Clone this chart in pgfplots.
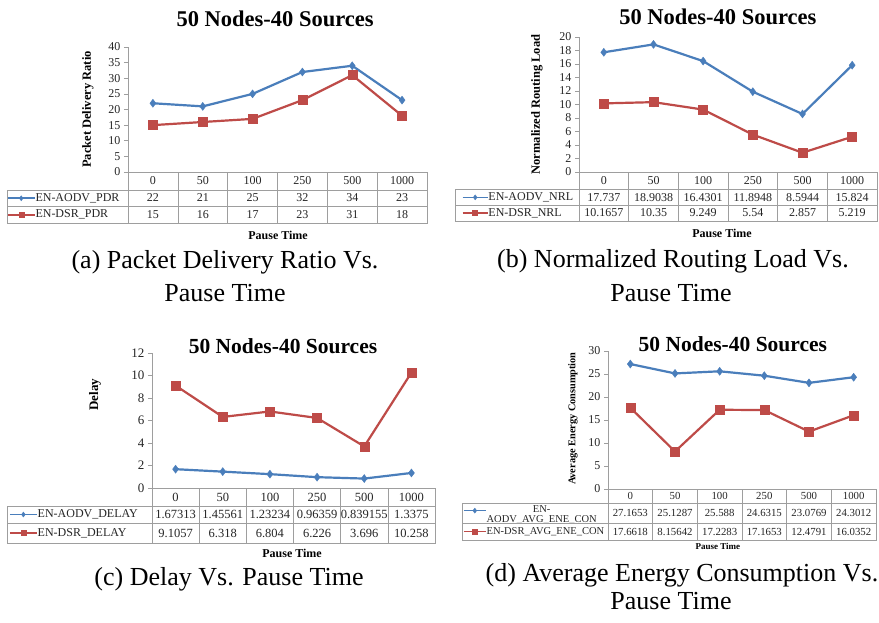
\documentclass[border=0pt]{standalone}
\usepackage{pgfplots}
\pgfplotsset{compat=1.18}
\usepackage{fontspec}
\setmainfont{Liberation Serif}

\definecolor{aodv}{HTML}{4A7EBB}
\definecolor{dsr}{HTML}{BE4B48}
\definecolor{gridc}{gray}{0.62}

\tikzset{
  tab/.style={text=black!85, inner sep=0pt},
  captxt/.style={font=\fontsize{26}{30}\selectfont, inner sep=0pt},
}

\pgfplotsset{
  panel/.style={
    scale only axis, anchor=south west, clip=false,
    xmin=-0.5, xmax=5.5, ymin=0,
    axis lines*=left, xtick=\empty,
    axis line style={draw=gridc, line width=0.6pt},
    tick style={draw=gridc, line width=0.6pt},
    tick align=outside, major tick length=4pt,
    /pgf/number format/assume math mode=true,
    yticklabel style={font=\fontsize{12}{14}\selectfont, text=black!85},
    ylabel style={font=\bfseries\fontsize{12.5}{14}\selectfont, anchor=center, inner sep=0pt},
    xlabel style={font=\bfseries\fontsize{12}{14}\selectfont, anchor=center, inner sep=0pt},
    title style={font=\bfseries\fontsize{22.5}{26}\selectfont, anchor=center, inner sep=0pt},
    legend style={draw=none, fill=none, inner sep=0pt, outer sep=0pt, anchor=west,
      font=\fontsize{12}{14}\selectfont, text=black!85,
      nodes={inner sep=0pt, text height=9pt, text depth=3pt}},
    legend cell align=left,
  },
  legimg/.style={legend image code/.code={%
    \draw[mark repeat=2, mark phase=2, mark size=2.5pt, line width=1.6pt]
      plot coordinates {(0pt,0pt) (#1*0.5pt,0pt) (#1pt,0pt)};}},
  aodv/.style={color=aodv, line width=2.2pt, mark=diamond*, mark size=4pt,
    mark options={solid, line width=0.4pt}},
  dsr/.style={color=dsr, line width=2.2pt, mark=square*, mark size=4.5pt,
    mark options={solid, line width=0.4pt}},
}

% positions are in pixels, measured down from the top edge
% table under an axis: #1 left x, #2 axis x0, #3 axis x1,
% #4 header top, #5 row1 top, #6 row2 top, #7 bottom, #8 font size
\newcommand{\datatable}[8]{%
  \pgfmathsetmacro{\cw}{(#3-#2)/6}
  \draw[gridc, line width=0.6pt] (#2,-#4) rectangle (#3,-#7);
  \draw[gridc, line width=0.6pt] (#1,-#5) rectangle (#3,-#7);
  \draw[gridc, line width=0.6pt] (#1,-#6) -- (#3,-#6);
  \foreach \k in {1,...,5}
    \draw[gridc, line width=0.6pt] ({#2+\k*\cw},-#4) -- ({#2+\k*\cw},-#7);
  \foreach \v [count=\i from 0] in {0,50,100,250,500,1000}
    \node[tab, font=\fontsize{#8}{14}\selectfont] at ({#2+(\i+0.5)*\cw},{-(#4+#5)/2}) {\v};
}
% #1 axis x0, #2 row centre y, #3 font size, #4 values
\newcommand{\tablerow}[4]{%
  \foreach \v [count=\i from 0] in {#4}
    \node[tab, font=\fontsize{#3}{14}\selectfont] at ({#1+(\i+0.5)*\cw},-#2) {\v};
}

\begin{document}
\begin{tikzpicture}[x=1pt, y=1pt]
\useasboundingbox[fill=white] (0,0) rectangle (879,-622);

% ---------- (a) ----------
\begin{axis}[panel, at={(128pt,-172pt)}, width=299pt, height=125pt,
    ymax=40, ytick={0,5,...,40},
    title={50 Nodes-40 Sources}, title style={at={(axis description cs:0.492,1.176)}},
    ylabel={Packet Delivery Ratio}, ylabel style={at={(axis description cs:-0.134,0.5)}},
    xlabel={Pause Time}, xlabel style={at={(axis description cs:0.502,-0.504)}},
    legend style={at={(axis description cs:-0.405,-0.276)}, row sep=4.5pt},
    legimg=27]
\addplot[aodv] coordinates {(0,22) (1,21) (2,25) (3,32) (4,34) (5,23)};
\addlegendentry{EN-AODV\_PDR}
\addplot[dsr] coordinates {(0,15) (1,16) (2,17) (3,23) (4,31) (5,18)};
\addlegendentry{EN-DSR\_PDR}
\end{axis}
\datatable{7}{128}{427}{172}{190}{206}{223}{12}
\tablerow{128}{198}{12}{22,21,25,32,34,23}
\tablerow{128}{214.5}{12}{15,16,17,23,31,18}
\node[captxt] at (225,-262) {(a) Packet Delivery Ratio Vs.};
\node[captxt] at (225,-293) {Pause Time};

% ---------- (b) ----------
\begin{axis}[panel, at={(579pt,-172pt)}, width=298pt, height=135pt,
    ymax=20, ytick={0,2,...,20},
    title={50 Nodes-40 Sources}, title style={at={(axis description cs:0.466,1.104)}},
    ylabel={Normalized Routing Load}, ylabel style={at={(axis description cs:-0.141,0.5)}},
    xlabel={Pause Time}, xlabel style={at={(axis description cs:0.48,-0.452)}},
    legend style={at={(axis description cs:-0.393,-0.246)}, row sep=3.75pt},
    legimg=25]
\addplot[aodv] coordinates {(0,17.737) (1,18.9038) (2,16.4301) (3,11.8948) (4,8.5944) (5,15.824)};
\addlegendentry{EN-AODV\_NRL}
\addplot[dsr] coordinates {(0,10.1657) (1,10.35) (2,9.249) (3,5.54) (4,2.857) (5,5.219)};
\addlegendentry{EN-DSR\_NRL}
\end{axis}
\datatable{455}{579}{877}{172}{189.5}{205}{221}{12}
\tablerow{579}{197.25}{12}{17.737,18.9038,16.4301,11.8948,8.5944,15.824}
\tablerow{579}{213}{12}{10.1657,10.35,9.249,5.54,2.857,5.219}
\node[captxt] at (673,-261) {(b) Normalized Routing Load Vs.};
\node[captxt] at (671,-293) {Pause Time};

% ---------- (c) ----------
\begin{axis}[panel, at={(152pt,-488pt)}, width=283pt, height=135pt,
    ymax=12, ytick={0,2,...,12},
    yticklabel style={font=\fontsize{13}{15}\selectfont},
    title={50 Nodes-40 Sources}, title style={at={(axis description cs:0.463,1.007)},
      font=\bfseries\fontsize{21.5}{25}\selectfont},
    ylabel={Delay}, ylabel style={at={(axis description cs:-0.201,0.69)},
      font=\bfseries\fontsize{13}{15}\selectfont},
    xlabel={Pause Time}, xlabel style={at={(axis description cs:0.495,-0.481)}},
    legend style={at={(axis description cs:-0.505,-0.265)}, row sep=6.5pt},
    legimg=27]
\addplot[aodv] coordinates {(0,1.67313) (1,1.45561) (2,1.23234) (3,0.96359) (4,0.839155) (5,1.3375)};
\addlegendentry{EN-AODV\_DELAY}
\addplot[dsr] coordinates {(0,9.1057) (1,6.318) (2,6.804) (3,6.226) (4,3.696) (5,10.258)};
\addlegendentry{EN-DSR\_DELAY}
\end{axis}
\datatable{7}{152}{435}{488}{506}{523}{543}{12.5}
\tablerow{152}{514.5}{12.5}{1.67313,1.45561,1.23234,0.96359,0.839155,1.3375}
\tablerow{152}{533}{12.5}{9.1057,6.318,6.804,6.226,3.696,10.258}
\node[captxt] at (229,-579) {(c) Delay Vs. Pause Time};

% ---------- (d) ----------
\begin{axis}[panel, at={(608pt,-489pt)}, width=268pt, height=138pt,
    ymax=30, ytick={0,5,...,30},
    title={50 Nodes-40 Sources}, title style={at={(axis description cs:0.466,1.007)},
      font=\bfseries\fontsize{21.5}{25}\selectfont},
    ylabel={Average Energy Consumption}, ylabel style={at={(axis description cs:-0.131,0.51)},
      font=\bfseries\fontsize{10.3}{12}\selectfont},
    xlabel={Pause Time}, xlabel style={at={(axis description cs:0.41,-0.415)},
      font=\bfseries\fontsize{9}{11}\selectfont},
    legend style={at={(axis description cs:-0.541,-0.23)}, row sep=2pt,
      font=\fontsize{10.5}{9.5}\selectfont,
      nodes={inner sep=0pt, text height=, text depth=}},
    legimg=22]
\addplot[aodv, legend image code/.code={%
    \draw[mark repeat=2, mark phase=2, mark size=2.5pt, line width=1.6pt]
      plot coordinates {(0pt,5pt) (11pt,5pt) (22pt,5pt)};}]
  coordinates {(0,27.1653) (1,25.1287) (2,25.588) (3,24.6315) (4,23.0769) (5,24.3012)};
\addlegendentry{\begin{tabular}[t]{@{}c@{}}EN-\\AODV\_AVG\_ENE\_CON\end{tabular}}
\addplot[dsr] coordinates {(0,17.6618) (1,8.15642) (2,17.2283) (3,17.1653) (4,12.4791) (5,16.0352)};
\addlegendentry{EN-DSR\_AVG\_ENE\_CON}
\end{axis}
\datatable{462}{608}{876}{489}{503}{523}{540}{10.8}
\tablerow{608}{513}{10.8}{27.1653,25.1287,25.588,24.6315,23.0769,24.3012}
\tablerow{608}{531.5}{10.8}{17.6618,8.15642,17.2283,17.1653,12.4791,16.0352}
\node[captxt] at (682,-575) {(d) Average Energy Consumption Vs.};
\node[captxt] at (671,-601) {Pause Time};
\end{tikzpicture}
\end{document}
